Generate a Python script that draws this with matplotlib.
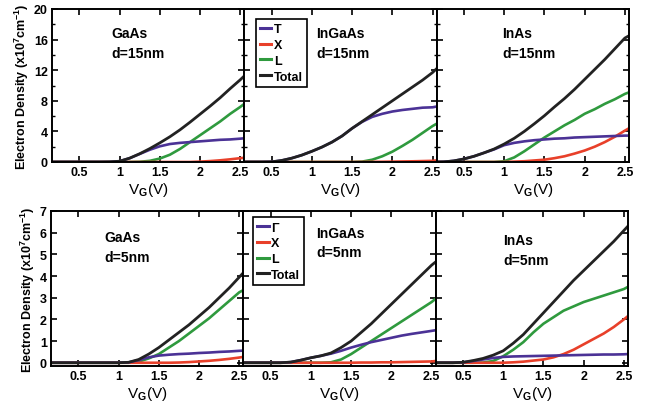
import numpy as np
import matplotlib
matplotlib.use("Agg")
import matplotlib.pyplot as plt
from matplotlib.ticker import MultipleLocator

plt.rcParams['font.family'] = ['Liberation Sans', 'DejaVu Sans']
plt.rcParams['font.weight'] = 'bold'
plt.rcParams['mathtext.fontset'] = 'custom'
plt.rcParams['mathtext.bf'] = 'Liberation Sans:bold'
plt.rcParams['mathtext.rm'] = 'Liberation Sans:bold'
plt.rcParams['mathtext.default'] = 'bf'

# gate voltage grid (V)
vg = [0.17, 0.25, 0.375, 0.5, 0.625, 0.75, 0.875, 1.0, 1.125, 1.25, 1.375,
      1.5, 1.625, 1.75, 1.875, 2.0, 2.125, 2.25, 2.375, 2.5, 2.55]

# ---- d = 15 nm (x10^7 cm^-1) ----
gaas15_g = [0, 0, 0, 0, 0, 0, 0, 0.1, 0.5, 1.05, 1.6, 2.05, 2.35, 2.5, 2.6, 2.7, 2.8, 2.9, 2.95, 3.05, 3.1]
gaas15_x = [0, 0, 0, 0, 0, 0, 0, 0, 0, 0, 0, 0, 0, 0, 0, 0.05, 0.12, 0.22, 0.35, 0.5, 0.55]
gaas15_l = [0, 0, 0, 0, 0, 0, 0, 0, 0, 0.03, 0.15, 0.45, 0.95, 1.7, 2.6, 3.5, 4.4, 5.3, 6.3, 7.2, 7.6]
gaas15_t = [0, 0, 0, 0, 0, 0, 0.02, 0.1, 0.5, 1.08, 1.75, 2.5, 3.3, 4.2, 5.2, 6.25, 7.3, 8.4, 9.6, 10.75, 11.25]

ingaas15_g = [0, 0, 0, 0.02, 0.2, 0.5, 0.9, 1.4, 1.95, 2.6, 3.4, 4.4, 5.25, 5.9, 6.3, 6.6, 6.8, 6.95, 7.1, 7.15, 7.25]
ingaas15_x = [0, 0, 0, 0, 0, 0, 0, 0, 0, 0, 0, 0, 0.01, 0.02, 0.03, 0.05, 0.07, 0.09, 0.12, 0.15, 0.2]
ingaas15_l = [0, 0, 0, 0, 0, 0, 0, 0, 0, 0, 0, 0, 0.05, 0.3, 0.75, 1.35, 2.1, 2.9, 3.8, 4.7, 5.0]
ingaas15_t = [0, 0, 0, 0.02, 0.2, 0.5, 0.9, 1.4, 1.95, 2.6, 3.4, 4.4, 5.3, 6.2, 7.1, 8.0, 8.9, 9.8, 10.7, 11.7, 12.2]

inas15_g = [0, 0.02, 0.15, 0.4, 0.75, 1.2, 1.65, 2.2, 2.5, 2.7, 2.85, 2.95, 3.05, 3.1, 3.2, 3.25, 3.3, 3.35, 3.4, 3.45, 3.45]
inas15_x = [0, 0, 0, 0, 0, 0, 0, 0, 0.05, 0.1, 0.2, 0.3, 0.5, 0.75, 1.1, 1.5, 2.0, 2.6, 3.3, 4.1, 4.4]
inas15_l = [0, 0, 0, 0, 0, 0, 0, 0.1, 0.6, 1.4, 2.3, 3.2, 4.0, 4.8, 5.5, 6.3, 6.9, 7.6, 8.2, 8.9, 9.1]
inas15_t = [0, 0.02, 0.15, 0.4, 0.75, 1.2, 1.7, 2.35, 3.1, 4.0, 5.0, 6.05, 7.2, 8.3, 9.5, 10.8, 12.1, 13.4, 14.8, 16.2, 16.5]

# ---- d = 5 nm (x10^7 cm^-1) ----
gaas5_g = [0, 0, 0, 0, 0, 0, 0, 0, 0.02, 0.12, 0.25, 0.33, 0.37, 0.4, 0.42, 0.45, 0.47, 0.5, 0.52, 0.55, 0.56]
gaas5_x = [0, 0, 0, 0, 0, 0, 0, 0, 0, 0, 0, 0, 0, 0.01, 0.03, 0.06, 0.09, 0.13, 0.18, 0.24, 0.27]
gaas5_l = [0, 0, 0, 0, 0, 0, 0, 0, 0, 0.05, 0.2, 0.4, 0.7, 1.0, 1.35, 1.7, 2.05, 2.45, 2.85, 3.25, 3.35]
gaas5_t = [0, 0, 0, 0, 0, 0, 0, 0, 0.02, 0.15, 0.4, 0.7, 1.05, 1.4, 1.75, 2.15, 2.55, 3.0, 3.45, 3.95, 4.15]

ingaas5_g = [0, 0, 0, 0, 0, 0.03, 0.12, 0.23, 0.32, 0.42, 0.55, 0.7, 0.83, 0.95, 1.05, 1.15, 1.25, 1.33, 1.4, 1.47, 1.5]
ingaas5_x = [0, 0, 0, 0, 0, 0, 0, 0, 0, 0, 0, 0, 0.01, 0.01, 0.02, 0.02, 0.03, 0.04, 0.05, 0.06, 0.08]
ingaas5_l = [0, 0, 0, 0, 0, 0, 0, 0, 0, 0.02, 0.15, 0.4, 0.7, 1.0, 1.3, 1.6, 1.9, 2.2, 2.5, 2.8, 2.95]
ingaas5_t = [0, 0, 0, 0, 0, 0.03, 0.12, 0.23, 0.32, 0.45, 0.7, 1.0, 1.4, 1.8, 2.25, 2.7, 3.15, 3.6, 4.05, 4.5, 4.65]

inas5_g = [0, 0, 0, 0.02, 0.08, 0.15, 0.22, 0.27, 0.29, 0.3, 0.31, 0.32, 0.33, 0.34, 0.35, 0.36, 0.37, 0.38, 0.38, 0.39, 0.4]
inas5_x = [0, 0, 0, 0, 0, 0, 0, 0, 0.02, 0.05, 0.1, 0.15, 0.25, 0.4, 0.6, 0.85, 1.1, 1.35, 1.65, 2.0, 2.15]
inas5_l = [0, 0, 0, 0, 0, 0.01, 0.08, 0.3, 0.6, 0.95, 1.4, 1.8, 2.1, 2.4, 2.6, 2.8, 2.95, 3.1, 3.25, 3.4, 3.5]
inas5_t = [0, 0, 0, 0.02, 0.1, 0.2, 0.35, 0.55, 0.9, 1.3, 1.8, 2.3, 2.8, 3.3, 3.8, 4.25, 4.7, 5.15, 5.6, 6.1, 6.3]

col_g = '#4b3296'
col_x = '#e8402a'
col_l = '#2f9a3e'
col_t = '#222222'

panels = [
    # row, col, material, thickness, gamma, x, l, total, label position
    (0, 0, 'GaAs', 'd=15nm', gaas15_g, gaas15_x, gaas15_l, gaas15_t, (0.31, 0.84)),
    (0, 1, 'InGaAs', 'd=15nm', ingaas15_g, ingaas15_x, ingaas15_l, ingaas15_t, (0.375, 0.84)),
    (0, 2, 'InAs', 'd=15nm', inas15_g, inas15_x, inas15_l, inas15_t, (0.34, 0.84)),
    (1, 0, 'GaAs', 'd=5nm', gaas5_g, gaas5_x, gaas5_l, gaas5_t, (0.28, 0.83)),
    (1, 1, 'InGaAs', 'd=5nm', ingaas5_g, ingaas5_x, ingaas5_l, ingaas5_t, (0.38, 0.86)),
    (1, 2, 'InAs', 'd=5nm', inas5_g, inas5_x, inas5_l, inas5_t, (0.35, 0.81)),
]

W, H = 652, 410
fig = plt.figure(figsize=(W / 100, H / 100), dpi=100)

row_top = [10, 212]
row_h = [153, 155]
x0 = [52, 51]
pw = 192.3
leg_anchor = [(0.06, 0.935), (0.05, 0.96)]

for row, col, mat, d, g, x, l, t, tpos in panels:
    left = (x0[row] + col * pw) / W
    bottom = 1 - (row_top[row] + row_h[row]) / H
    ax = fig.add_axes([left, bottom, pw / W, row_h[row] / H])

    ax.plot(vg, l, color=col_l, lw=1.9)
    ax.plot(vg, x, color=col_x, lw=1.9)
    ax.plot(vg, g, color=col_g, lw=1.9)
    ax.plot(vg, t, color=col_t, lw=2.0)

    ax.set_xlim(0.16, 2.55)
    ax.set_xticks([0.5, 1, 1.5, 2, 2.5])
    ax.set_xticklabels(['0.5', '1', '1.5', '2', '2.5'])
    if row == 0:
        ax.set_ylim(0, 20)
        ax.yaxis.set_major_locator(MultipleLocator(4))
        ax.yaxis.set_minor_locator(MultipleLocator(2))
    else:
        ax.set_ylim(-0.15, 7)
        ax.yaxis.set_major_locator(MultipleLocator(1))

    ax.tick_params(which='both', direction='in', top=True, right=True,
                   labelsize=9, pad=3)
    ax.tick_params(which='major', length=4, width=1.2)
    ax.tick_params(which='minor', length=2.5, width=1.0)
    for s in ax.spines.values():
        s.set_linewidth(1.4)
    if col != 0:
        ax.set_yticklabels([])
    else:
        ax.set_ylabel('Electron Density (x10$^{7}$cm$^{-1}$)', fontsize=9,
                      fontweight='bold', labelpad=2)
    ax.set_xlabel('V$_G$(V)', fontsize=11, labelpad=1)

    ax.text(tpos[0], tpos[1], mat, transform=ax.transAxes, fontsize=10,
            fontweight='bold', va='center')
    ax.text(tpos[0], tpos[1] - 0.125, d, transform=ax.transAxes, fontsize=10,
            fontweight='bold', va='center')

    if col == 1:
        gname = 'T' if row == 0 else 'Γ'
        handles = [
            plt.Line2D([], [], color=col_g, lw=2.2),
            plt.Line2D([], [], color=col_x, lw=2.2),
            plt.Line2D([], [], color=col_l, lw=2.2),
            plt.Line2D([], [], color=col_t, lw=2.2),
        ]
        leg = ax.legend(handles, [gname, 'X', 'L', 'Total'], loc='upper left',
                        bbox_to_anchor=leg_anchor[row], fontsize=9,
                        handlelength=0.9, handletextpad=0.2, labelspacing=0.3,
                        borderpad=0.35, borderaxespad=0.0, fancybox=False,
                        framealpha=1)
        leg.get_frame().set_edgecolor('black')
        leg.get_frame().set_linewidth(1.2)

fig.savefig('out.png', dpi=100)
